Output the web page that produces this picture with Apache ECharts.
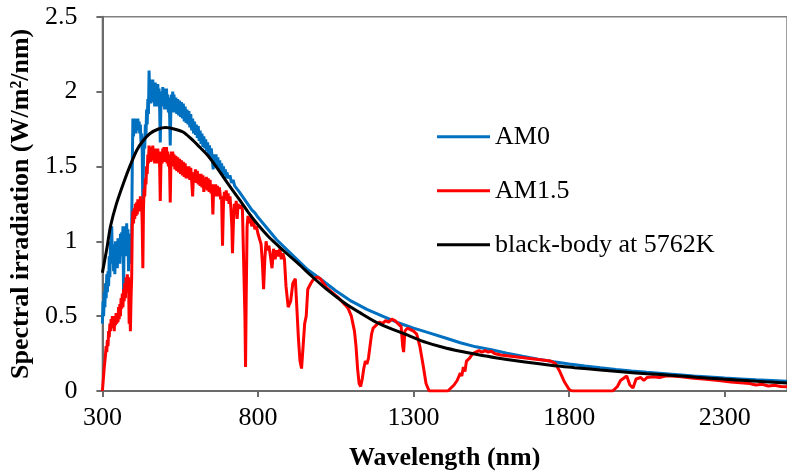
<!DOCTYPE html>
<html>
<head>
<meta charset="utf-8">
<script src="https://cdn.jsdelivr.net/npm/echarts@6/dist/echarts.min.js"></script>
<style>html,body{margin:0;padding:0;background:#fff}#c{width:787px;height:476px}</style>
</head>
<body>
<div id="c"></div>
<script>
// ---- data ----
const xTicks = [300, 800, 1300, 1800, 2300];
const yTicks = [0, 0.5, 1, 1.5, 2, 2.5];

const am0Wl = [300,302,304,306,308,310,312,314,316,318,320,322,324,326,328,330,332,334,336,338,340,342,344,346,348,350,352,354,356,358,360,362,364,366,368,370,372,374,376,378,380,382,384,386,388,390,392,394,396,398,400,402,404,406,408,410,412,414,416,418,420,422,424,426,428,430,432,434,436,438,440,442,444,446,448,450,452,454,456,458,460,462,464,466,468,470,472,474,476,478,480,482,484,486,488,490,492,494,496,498,500,502,504,506,508,510,512,514,516,518,520,522,524,526,528,530,533,536,539,542,545,548,551,554,557,560,563,566,569,572,575,578,581,584,587,590,593,596,599,602,605,608,611,614,617,620,623,626,629,632,635,638,641,644,647,650,653,656,659,662,665,668,671,674,677,680,683,686,689,692,695,698,700,705,710,715,720,725,730,740,750,760,770,780,790,800,820,840,860,880,900,920,940,960,980,1000,1050,1100,1150,1200,1250,1300,1350,1400,1450,1500,1550,1600,1650,1700,1750,1800,1850,1900,1950,2000,2050,2100,2150,2200,2250,2300,2350,2400,2450,2500];
const am0Val = [0.45,0.6,0.5,0.66,0.56,0.72,0.62,0.78,0.66,0.8,0.7,0.9,0.76,1.0,0.85,1.1,0.88,0.98,0.8,0.95,0.78,1.0,0.85,0.97,0.82,1.02,0.88,1.0,0.85,1.05,0.9,1.06,0.95,1.1,0.66,1.05,0.92,1.1,0.9,1.12,0.95,1.08,0.8,1.05,0.85,1.02,0.9,1.05,1.5,1.82,1.7,1.8,1.75,1.82,1.72,1.8,1.76,1.82,1.74,1.8,1.72,1.78,1.66,1.72,1.6,1.2,1.55,1.7,1.62,1.78,1.7,1.88,1.78,1.95,1.85,2.14,1.95,2.08,1.92,2.06,1.95,2.08,1.93,2.05,1.9,2.06,1.94,2.04,1.9,2.05,1.92,2.02,1.88,1.66,1.9,2.0,1.9,2.03,1.92,2.02,1.88,2.0,1.9,2.02,1.88,1.98,1.86,1.96,1.84,1.64,1.88,1.98,1.86,2.0,1.88,1.98,1.86,1.96,1.85,1.95,1.84,1.94,1.83,1.93,1.82,1.92,1.8,1.9,1.79,1.88,1.78,1.87,1.76,1.85,1.74,1.82,1.72,1.8,1.71,1.78,1.69,1.77,1.67,1.74,1.65,1.72,1.63,1.7,1.62,1.68,1.6,1.66,1.58,1.64,1.56,1.62,1.55,1.48,1.58,1.52,1.58,1.5,1.56,1.49,1.54,1.47,1.52,1.45,1.5,1.44,1.48,1.42,1.46,1.42,1.44,1.39,1.41,1.37,1.38,1.33,1.3,1.27,1.24,1.21,1.19,1.16,1.11,1.06,1.01,0.97,0.93,0.89,0.85,0.81,0.78,0.75,0.67,0.6,0.545,0.5,0.456,0.42,0.388,0.356,0.322,0.295,0.275,0.252,0.232,0.213,0.195,0.18,0.167,0.155,0.144,0.134,0.125,0.117,0.109,0.101,0.094,0.087,0.081,0.075,0.07,0.065];

const am15Wl = [300,303,306,309,312,314,316,318,320,322,324,326,328,330,332,334,336,338,340,342,344,346,348,350,352,354,356,358,360,362,364,366,368,370,372,374,376,378,380,382,384,386,388,390,392,394,396,398,400,402,404,406,408,410,412,414,416,418,420,422,424,426,428,430,432,434,436,438,440,442,444,446,448,450,452,454,456,458,460,462,464,466,468,470,472,474,476,478,480,482,484,486,488,490,492,494,496,498,500,502,504,506,508,510,512,514,516,518,520,522,524,526,528,530,533,536,539,542,545,548,551,554,557,560,563,566,569,572,575,578,581,584,587,590,593,596,599,602,605,608,611,614,617,620,623,626,628,631,634,637,640,643,646,649,652,655,658,661,664,667,670,673,676,680,683,686,689,692,695,698,701,704,707,710,713,716,718,721,724,727,730,733,736,740,745,750,755,758,760,762,765,768,772,776,780,785,790,795,800,805,810,814,818,822,826,830,835,840,845,850,855,860,865,870,875,880,885,890,897,905,912,920,925,930,935,940,945,950,955,960,970,980,990,1000,1010,1020,1040,1060,1080,1090,1100,1110,1115,1120,1125,1130,1135,1140,1145,1150,1155,1160,1165,1170,1180,1190,1200,1210,1220,1230,1240,1250,1260,1265,1268,1272,1280,1290,1300,1310,1320,1330,1340,1350,1410,1420,1430,1440,1450,1455,1460,1465,1470,1480,1490,1500,1510,1520,1530,1540,1550,1560,1580,1600,1620,1640,1660,1680,1700,1720,1740,1755,1770,1785,1800,1810,1940,1955,1965,1985,1995,2005,2015,2030,2040,2050,2070,2090,2110,2130,2160,2200,2240,2280,2320,2350,2380,2400,2420,2440,2460,2480,2500];
const am15Val = [0,0.08,0.16,0.22,0.3,0.26,0.34,0.3,0.4,0.36,0.45,0.4,0.48,0.42,0.5,0.43,0.48,0.4,0.5,0.44,0.52,0.45,0.5,0.46,0.56,0.48,0.58,0.5,0.62,0.55,0.65,0.56,0.68,0.6,0.72,0.62,0.76,0.66,0.78,0.7,0.76,0.45,0.55,0.4,0.62,0.75,1.1,1.2,1.12,1.22,1.15,1.25,1.17,1.26,1.18,1.28,1.2,1.28,1.2,1.3,1.22,1.28,1.1,0.82,1.22,1.35,1.3,1.42,1.38,1.5,1.45,1.58,1.52,1.64,1.55,1.62,1.53,1.63,1.54,1.64,1.54,1.62,1.52,1.62,1.53,1.6,1.52,1.62,1.54,1.6,1.5,1.27,1.5,1.6,1.52,1.62,1.54,1.63,1.53,1.62,1.54,1.63,1.52,1.6,1.5,1.58,1.48,1.26,1.5,1.6,1.5,1.6,1.5,1.58,1.48,1.57,1.47,1.56,1.46,1.55,1.45,1.54,1.44,1.53,1.43,1.52,1.42,1.5,1.42,1.5,1.41,1.49,1.4,1.3,1.46,1.4,1.48,1.39,1.47,1.38,1.45,1.37,1.45,1.36,1.44,1.33,1.42,1.35,1.43,1.34,1.42,1.33,1.41,1.32,1.38,1.18,1.38,1.3,1.38,1.3,1.37,1.3,1.36,1.28,1.3,0.97,1.25,1.33,1.28,1.34,1.27,1.32,1.25,1.3,1.22,1.1,0.92,1.12,1.25,1.2,1.27,1.15,1.25,1.22,1.24,1.21,1.2,0.5,0.16,0.6,1.1,1.17,1.12,1.16,1.1,1.14,1.08,1.1,1.05,1.04,0.98,0.86,0.68,0.88,1.0,0.94,0.97,0.9,0.82,0.95,0.88,0.94,0.9,0.95,0.88,0.92,0.88,0.7,0.56,0.6,0.72,0.75,0.55,0.35,0.2,0.15,0.3,0.45,0.5,0.68,0.72,0.75,0.76,0.75,0.72,0.69,0.655,0.62,0.575,0.55,0.5,0.4,0.3,0.15,0.05,0.03,0.08,0.15,0.2,0.18,0.22,0.3,0.38,0.42,0.44,0.46,0.45,0.47,0.46,0.48,0.47,0.45,0.43,0.3,0.26,0.4,0.42,0.41,0.4,0.38,0.3,0.18,0.05,0,0,0.02,0.04,0.07,0.12,0.1,0.16,0.13,0.2,0.22,0.25,0.26,0.27,0.26,0.27,0.26,0.265,0.25,0.24,0.235,0.23,0.225,0.22,0.215,0.21,0.205,0.2,0.185,0.13,0.06,0.01,0,0,0.03,0.07,0.1,0.04,0.02,0.08,0.09,0.07,0.09,0.095,0.09,0.1,0.1,0.095,0.085,0.078,0.07,0.06,0.055,0.05,0.04,0.045,0.033,0.038,0.03,0.028];

const bbWl = [300,315,326,345,368,390,411,430,453,480,504,530,559,585,612,640,665,690,717,745,770,800,834,865,897,935,971,1020,1077,1130,1183,1235,1288,1340,1394,1450,1500,1563,1658,1740,1817,1900,1976,2050,2134,2210,2293,2380,2473,2500];
const bbVal = [0.79,0.96,1.10,1.25,1.39,1.51,1.61,1.67,1.72,1.75,1.76,1.75,1.73,1.685,1.63,1.57,1.50,1.425,1.345,1.265,1.19,1.11,1.03,0.97,0.91,0.84,0.77,0.68,0.59,0.52,0.456,0.41,0.367,0.325,0.292,0.265,0.245,0.222,0.193,0.172,0.156,0.14,0.127,0.115,0.104,0.092,0.08,0.068,0.056,0.053];

const seriesNames = ['AM0', 'AM1.5', 'black-body at 5762K'];

const pairs = (xs, ys) => xs.map((x, i) => [x, ys[i]]);

const FONT = "'Liberation Serif', 'Times New Roman', serif";
const chart = echarts.init(document.getElementById('c'), null, {renderer: 'canvas'});
chart.setOption({
  animation: false,
  backgroundColor: '#ffffff',
  grid: {left: 101.7, top: 16.7, height: 375, width: 693.7, show: true, borderColor: '#808080', borderWidth: 1.5, backgroundColor: 'transparent'},
  legend: {
    orient: 'vertical', left: 432, top: 118.7,
    itemWidth: 53, itemHeight: 3, itemGap: 28, icon: 'rect',
    textStyle: {fontFamily: FONT, fontSize: 26, color: '#000', lineHeight: 26},
    data: seriesNames
  },
  xAxis: {
    type: 'value', min: 300, max: 2500, interval: 500,
    name: 'Wavelength (nm)', nameLocation: 'middle', nameGap: 54,
    nameTextStyle: {fontFamily: FONT, fontSize: 26, fontWeight: 'bold', color: '#000'},
    axisLine: {show: true, lineStyle: {color: '#6b6b6b', width: 2}},
    axisTick: {show: true, length: 6, lineStyle: {color: '#6b6b6b', width: 2}},
    axisLabel: {fontFamily: FONT, fontSize: 26, color: '#000', margin: 14, showMaxLabel: false, formatter: v => String(v)},
    splitLine: {show: false}
  },
  yAxis: {
    type: 'value', min: 0, max: 2.5, interval: 0.5,
    name: 'Spectral irradiation (W/m²/nm)', nameLocation: 'middle', nameGap: 52, nameRotate: 90,
    nameTextStyle: {fontFamily: FONT, fontSize: 26, fontWeight: 'bold', color: '#000'},
    axisLine: {show: true, lineStyle: {color: '#6b6b6b', width: 2}},
    axisTick: {show: true, length: 6, lineStyle: {color: '#6b6b6b', width: 2}},
    axisLabel: {fontFamily: FONT, fontSize: 26, color: '#000', margin: 25, formatter: v => String(v)},
    splitLine: {show: false}
  },
  series: [
    {name: seriesNames[0], type: 'line', data: pairs(am0Wl, am0Val), symbol: 'none', lineStyle: {color: '#0070C0', width: 3}, itemStyle: {color: '#0070C0'}, z: 2},
    {name: seriesNames[1], type: 'line', data: pairs(am15Wl, am15Val), symbol: 'none', lineStyle: {color: '#FF0000', width: 3}, itemStyle: {color: '#FF0000'}, z: 3},
    {name: seriesNames[2], type: 'line', data: pairs(bbWl, bbVal), symbol: 'none', smooth: 0.3, lineStyle: {color: '#000000', width: 3}, itemStyle: {color: '#000000'}, z: 4}
  ]
});
</script>
</body>
</html>
